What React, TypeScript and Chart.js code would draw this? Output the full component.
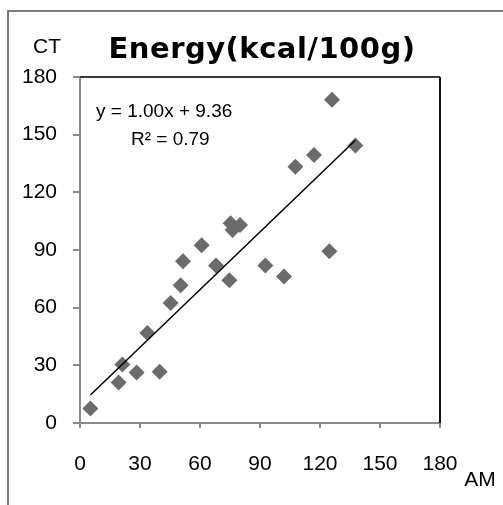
import React, { useEffect, useRef } from "react";
import { Chart, registerables } from "chart.js";

Chart.register(...registerables);

const TITLE = "Energy(kcal/100g)";
const X_LABEL = "AM";
const Y_LABEL = "CT";
const AXIS_MIN = 0;
const AXIS_MAX = 180;
const AXIS_STEP = 30;

const amValues = [5.2, 19.3, 21.2, 28.3, 39.8, 33.7, 45.3, 50.3, 51.5, 60.8, 68, 74.7, 75.3, 76.3, 80, 92.7, 102, 124.7, 107.7, 117, 126, 137.7];
const ctValues = [7.6, 21.1, 30.4, 26.3, 26.6, 46.8, 62.4, 71.7, 84.2, 92.5, 82, 74.2, 103.9, 100.4, 103, 82, 76.2, 89.4, 133.3, 139.4, 168.2, 144.3];

const TREND_SLOPE = 1.0;
const TREND_INTERCEPT = 9.36;
const EQUATION_TEXT = "y = 1.00x + 9.36";
const R2_TEXT = "R² = 0.79";

const FONT = "'Liberation Sans', Arial, sans-serif";

export default function App() {
  const ref = useRef<HTMLCanvasElement>(null);

  useEffect(() => {
    if (!ref.current) return;
    const points = amValues.map((x, i) => ({ x, y: ctValues[i] }));
    const minX = Math.min(...amValues);
    const maxX = Math.max(...amValues);
    const trend = [
      { x: minX, y: TREND_SLOPE * minX + TREND_INTERCEPT },
      { x: maxX, y: TREND_SLOPE * maxX + TREND_INTERCEPT },
    ];

    const decor = {
      id: "decor",
      beforeDraw(chart: any) {
        const ctx = chart.ctx;
        ctx.save();
        ctx.fillStyle = "#ffffff";
        ctx.fillRect(0, 0, chart.width, chart.height);
        ctx.strokeStyle = "#7a7a7a";
        ctx.lineWidth = 2;
        ctx.beginPath();
        ctx.moveTo(8, 505);
        ctx.lineTo(8, 11);
        ctx.lineTo(503, 11);
        ctx.stroke();
        ctx.restore();
      },
      afterDatasetsDraw(chart: any) {
        const ctx = chart.ctx;
        const a = chart.chartArea;
        ctx.save();
        ctx.lineWidth = 2;
        ctx.strokeStyle = "#3a3a3a";
        ctx.beginPath();
        ctx.moveTo(a.left, a.top);
        ctx.lineTo(a.right, a.top);
        ctx.stroke();
        ctx.strokeStyle = "#111111";
        ctx.beginPath();
        ctx.moveTo(a.right, a.top);
        ctx.lineTo(a.right, a.bottom);
        ctx.stroke();

        ctx.fillStyle = "#000000";
        ctx.font = `19px ${FONT}`;
        ctx.textAlign = "left";
        ctx.textBaseline = "middle";
        ctx.fillText(EQUATION_TEXT, 96, 112);
        ctx.fillText(R2_TEXT, 131, 140);

        ctx.font = `21px ${FONT}`;
        ctx.textAlign = "center";
        ctx.fillText(Y_LABEL, 47, 47);
        ctx.fillText(X_LABEL, 480, 480);

        ctx.font = "bold 29px 'DejaVu Sans', sans-serif";
        (ctx as any).letterSpacing = "0.5px";
        ctx.fillText(TITLE, 262, 50);
        ctx.restore();
      },
    };

    const chart = new Chart(ref.current, {
      type: "scatter",
      data: {
        datasets: [
          {
            label: "Energy",
            data: points,
            pointStyle: "rectRot",
            pointRadius: 8,
            pointBackgroundColor: "#6b6b6b",
            pointBorderColor: "#6b6b6b",
            pointBorderWidth: 0,
            showLine: false,
            order: 2,
          },
          {
            label: "Trend",
            data: trend,
            type: "line",
            showLine: true,
            borderColor: "#000000",
            borderWidth: 1.5,
            pointRadius: 0,
            fill: false,
            order: 1,
          } as any,
        ],
      },
      options: {
        responsive: false,
        animation: false,
        layout: { padding: { left: 0, right: 63, top: 77, bottom: 0 } },
        plugins: {
          legend: { display: false },
          title: { display: false },
          tooltip: { enabled: false },
        },
        scales: {
          x: {
            type: "linear",
            min: AXIS_MIN,
            max: AXIS_MAX,
            afterFit(scale: any) {
              scale.height = 82;
            },
            ticks: {
              stepSize: AXIS_STEP,
              color: "#000000",
              padding: 24,
              font: { family: FONT, size: 21 },
            },
            grid: {
              drawOnChartArea: false,
              drawTicks: true,
              tickLength: 5,
              color: "#8a8a8a",
              lineWidth: 2,
            },
            border: { display: true, color: "#8a8a8a", width: 2 },
          },
          y: {
            type: "linear",
            min: AXIS_MIN,
            max: AXIS_MAX,
            afterFit(scale: any) {
              scale.width = 80;
            },
            ticks: {
              stepSize: AXIS_STEP,
              color: "#000000",
              padding: 16,
              font: { family: FONT, size: 21 },
            },
            grid: {
              drawOnChartArea: false,
              drawTicks: true,
              tickLength: 7,
              color: "#8a8a8a",
              lineWidth: 2,
            },
            border: { display: true, color: "#8a8a8a", width: 2 },
          },
        },
      },
      plugins: [decor],
    });
    return () => chart.destroy();
  }, []);

  return (
    <canvas
      ref={ref}
      width={503}
      height={505}
      style={{ position: "absolute", left: 0, top: 0, width: 503, height: 505 }}
    />
  );
}
